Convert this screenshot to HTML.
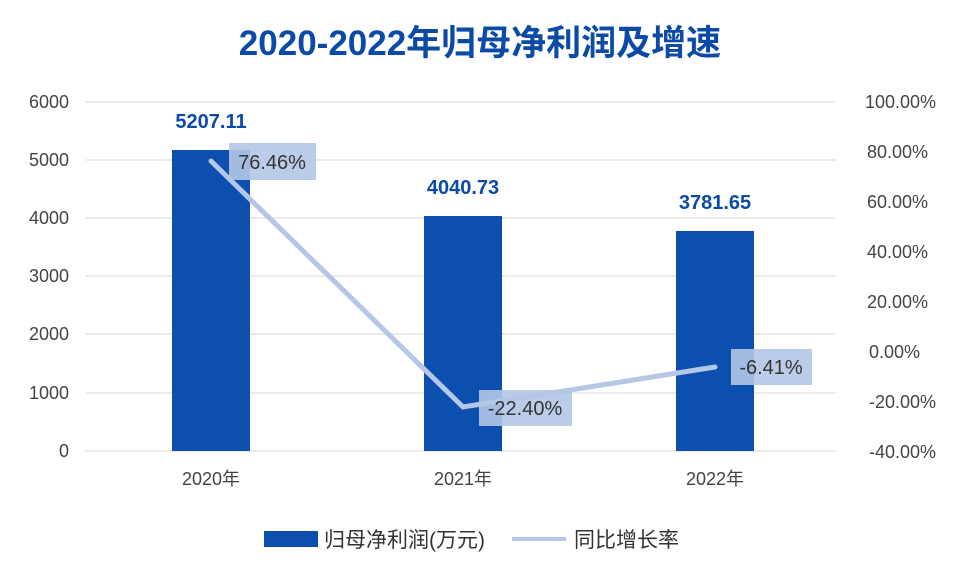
<!DOCTYPE html>
<html><head><meta charset="utf-8"><style>
html,body{margin:0;padding:0;background:#fff;}
</style></head><body>
<svg width="960" height="576" xmlns="http://www.w3.org/2000/svg" font-family="Liberation Sans, Noto Sans CJK SC, sans-serif">
<rect width="960" height="576" fill="#fff"/>
<text x="480" y="55" text-anchor="middle" font-size="35" font-weight="bold" fill="#0b4aa6" font-family="Liberation Sans, Noto Sans CJK SC, sans-serif">2020-2022年归母净利润及增速</text>
<g stroke="#d9d9d9" stroke-width="1">
<line x1="86" y1="102" x2="836" y2="102"/>
<line x1="86" y1="160" x2="836" y2="160"/>
<line x1="86" y1="218" x2="836" y2="218"/>
<line x1="86" y1="276" x2="836" y2="276"/>
<line x1="86" y1="334" x2="836" y2="334"/>
<line x1="86" y1="393" x2="836" y2="393"/>
<line x1="86" y1="451" x2="836" y2="451"/>
</g>
<g font-size="18" fill="#444" text-anchor="end">
<text x="69" y="108">6000</text><text x="69" y="166">5000</text><text x="69" y="224">4000</text>
<text x="69" y="282">3000</text><text x="69" y="340">2000</text><text x="69" y="399">1000</text><text x="69" y="457">0</text>
</g>
<g font-size="18" fill="#444" text-anchor="end">
<text x="936" y="108">100.00%</text><text x="928" y="158">80.00%</text><text x="928" y="208">60.00%</text>
<text x="928" y="258">40.00%</text><text x="928" y="308">20.00%</text><text x="920" y="358">0.00%</text>
<text x="936" y="408">-20.00%</text><text x="936" y="458">-40.00%</text>
</g>
<g fill="#0d4faf">
<rect x="172" y="150" width="78" height="301"/>
<rect x="424" y="216" width="78" height="235"/>
<rect x="676" y="231" width="78" height="220"/>
</g>
<g font-size="20" font-weight="bold" fill="#0b4aa6" text-anchor="middle">
<text x="211" y="128">5207.11</text><text x="463" y="194">4040.73</text><text x="715" y="209">3781.65</text>
</g>
<polyline points="211,161 463,407 715,367" fill="none" stroke="#b4c7e7" stroke-width="5" stroke-linecap="round"/>
<g fill="#b4c6e6" fill-opacity="0.9">
<rect x="229" y="143" width="87" height="37"/>
<rect x="479" y="390" width="93" height="36"/>
<rect x="731" y="349" width="81" height="36"/>
</g>
<g font-size="20" fill="#333" text-anchor="middle">
<text x="272" y="169">76.46%</text><text x="525" y="415">-22.40%</text><text x="771" y="374">-6.41%</text>
</g>
<g font-size="18" fill="#444" text-anchor="middle">
<text x="211" y="485">2020年</text><text x="463" y="485">2021年</text><text x="715" y="485">2022年</text>
</g>
<rect x="264" y="531" width="54" height="16" fill="#0d4faf"/>
<text x="324" y="547" font-size="21" fill="#333">归母净利润(万元)</text>
<line x1="512" y1="539" x2="566" y2="539" stroke="#b4c7e7" stroke-width="4"/>
<text x="574" y="547" font-size="21" fill="#333">同比增长率</text>
</svg>
</body></html>
